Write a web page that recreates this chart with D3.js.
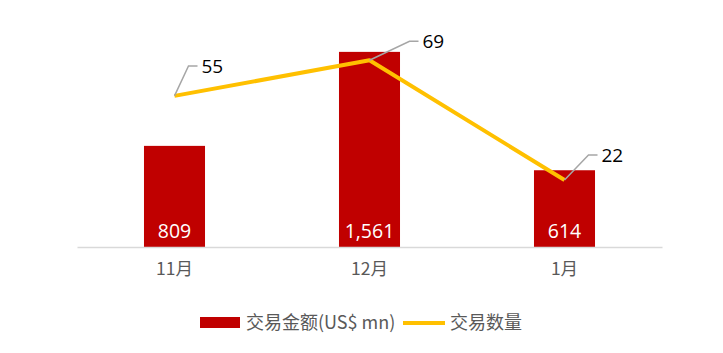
<!DOCTYPE html>
<html>
<head>
<meta charset="utf-8">
<script src="https://cdn.jsdelivr.net/npm/d3@7"></script>
<style>
  body { margin: 0; background: #fff; }
  svg text { font-family: "Open Sans", "Noto Sans CJK SC", sans-serif; }
</style>
</head>
<body>
<div id="chart-area"></div>
<script>
// data
var months = ["11月", "12月", "1月"];
var amounts = [809, 1561, 614];   // 交易金额 (US$ mn)
var counts = [55, 69, 22];        // 交易数量
var amountLabels = ["809", "1,561", "614"];

// leader line offsets for the count labels (diagonal dx, dy)
var leaderOffsets = [[14, -30], [40, -19], [24, -25]];

var width = 723, height = 353;
var plot = {left: 77, right: 662, top: 22, bottom: 247};

var svg = d3.select("#chart-area").append("svg")
    .attr("width", width)
    .attr("height", height);

// Scales
var x = d3.scaleBand()
    .domain(months)
    .range([plot.left, plot.right])
    .paddingInner(0.687)
    .paddingOuter(0.3435);

var y = d3.scaleLinear()
    .domain([0, 1800])
    .range([plot.bottom, plot.top]);

var y2 = d3.scaleLinear()
    .domain([-4.3, 84])
    .range([plot.bottom, plot.top]);

var cx = d => x(d) + x.bandwidth() / 2;

// Bars
svg.selectAll(".bar")
    .data(months)
    .join("rect")
    .attr("class", "bar")
    .attr("x", d => x(d))
    .attr("y", (d, i) => y(amounts[i]))
    .attr("width", x.bandwidth())
    .attr("height", (d, i) => plot.bottom - y(amounts[i]))
    .attr("fill", "#C00000");

// bar value labels
svg.selectAll(".bar-label")
    .data(months)
    .join("text")
    .attr("class", "bar-label")
    .attr("x", d => cx(d))
    .attr("y", plot.bottom - 9)
    .attr("text-anchor", "middle")
    .attr("fill", "#fff")
    .attr("font-size", 19.5)
    .text((d, i) => amountLabels[i]);

// x axis
var xAxis = d3.axisBottom(x).tickSize(0).tickPadding(16);
var gx = svg.append("g")
    .attr("class", "x-axis")
    .attr("transform", "translate(0," + plot.bottom + ")")
    .call(xAxis);
gx.select(".domain").attr("stroke", "#D9D9D9").attr("stroke-width", 1.5);
gx.selectAll("text")
    .attr("font-size", 17.5)
    .attr("fill", "#595959")
    .style("font-family", "'Noto Sans CJK SC', sans-serif");

// Line
var line = d3.line()
    .x(d => cx(d))
    .y((d, i) => y2(counts[i]));

svg.append("path")
    .datum(months)
    .attr("d", line)
    .attr("fill", "none")
    .attr("stroke", "#FFC000")
    .attr("stroke-width", 4)
    .attr("stroke-linejoin", "round");

// leader lines + labels for counts
months.forEach(function(m, i) {
    var px = cx(m), py = y2(counts[i]);
    var o = leaderOffsets[i];
    svg.append("polyline")
        .attr("points", [[px, py], [px + o[0], py + o[1]], [px + o[0] + 9, py + o[1]]].join(" "))
        .attr("fill", "none")
        .attr("stroke", "#A6A6A6")
        .attr("stroke-width", 1.5);
    svg.append("text")
        .attr("x", px + o[0] + 13)
        .attr("y", py + o[1])
        .attr("dy", "0.35em")
        .attr("font-size", 19)
        .attr("fill", "#000")
        .text(counts[i]);
});

// Legend
var legend = svg.append("g").attr("transform", "translate(200,323)");
legend.append("rect")
    .attr("x", 0).attr("y", -6)
    .attr("width", 40).attr("height", 11)
    .attr("fill", "#C00000");
legend.append("text")
    .attr("x", 46).attr("dy", "0.35em")
    .attr("font-size", 18)
    .attr("fill", "#595959")
    .style("font-family", "'Noto Sans CJK SC', sans-serif")
    .text("交易金额(US$ mn)");
legend.append("line")
    .attr("x1", 203).attr("x2", 245)
    .attr("stroke", "#FFC000")
    .attr("stroke-width", 4);
legend.append("text")
    .attr("x", 250).attr("dy", "0.35em")
    .attr("font-size", 18)
    .attr("fill", "#595959")
    .style("font-family", "'Noto Sans CJK SC', sans-serif")
    .text("交易数量");
</script>
</body>
</html>
